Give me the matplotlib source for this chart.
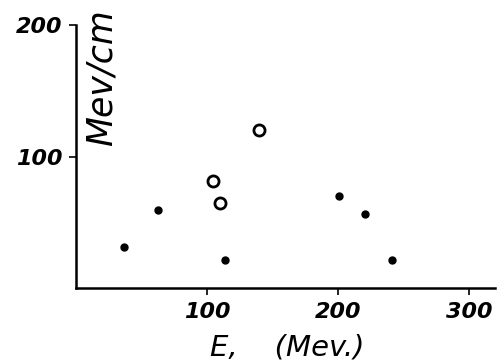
import matplotlib.pyplot as plt

# filled points (E in Mev, loss in Mev/cm)
filled_e = [37, 63, 114, 201, 221, 241]
filled_y = [31, 59, 21, 70, 56, 21]
# open circles
open_e = [105, 110, 140]
open_y = [81, 65, 120]

xticks = [100, 200, 300]
yticks = [100, 200]

fig = plt.figure(figsize=(5, 3.63), dpi=100)
ax = fig.add_axes([0.152, 0.2066, 0.838, 0.7245])

ax.plot(filled_e, filled_y, 'o', color='black', markersize=5)
ax.plot(open_e, open_y, 'o', markerfacecolor='white', markeredgecolor='black',
        markersize=8, markeredgewidth=2)

ax.set_xlim(0, 320)
ax.set_ylim(0, 200)
ax.spines['top'].set_visible(False)
ax.spines['right'].set_visible(False)
ax.spines['left'].set_linewidth(1.8)
ax.spines['bottom'].set_linewidth(1.8)

ax.set_xticks(xticks)
ax.set_yticks(yticks)
ax.tick_params(direction='out', length=5, width=1.2, pad=5)
for lab in ax.get_xticklabels() + ax.get_yticklabels():
    lab.set_fontsize(16)
    lab.set_fontstyle('italic')
    lab.set_fontweight('bold')

fig.text(0.170, 0.975, 'Mev/cm', rotation=90,
         ha='left', va='top', fontsize=25, fontstyle='italic')
fig.text(0.574, 0.005, 'E,    (Mev.)', ha='center', va='bottom',
         fontsize=21, fontstyle='italic')

fig.savefig('out.png')
